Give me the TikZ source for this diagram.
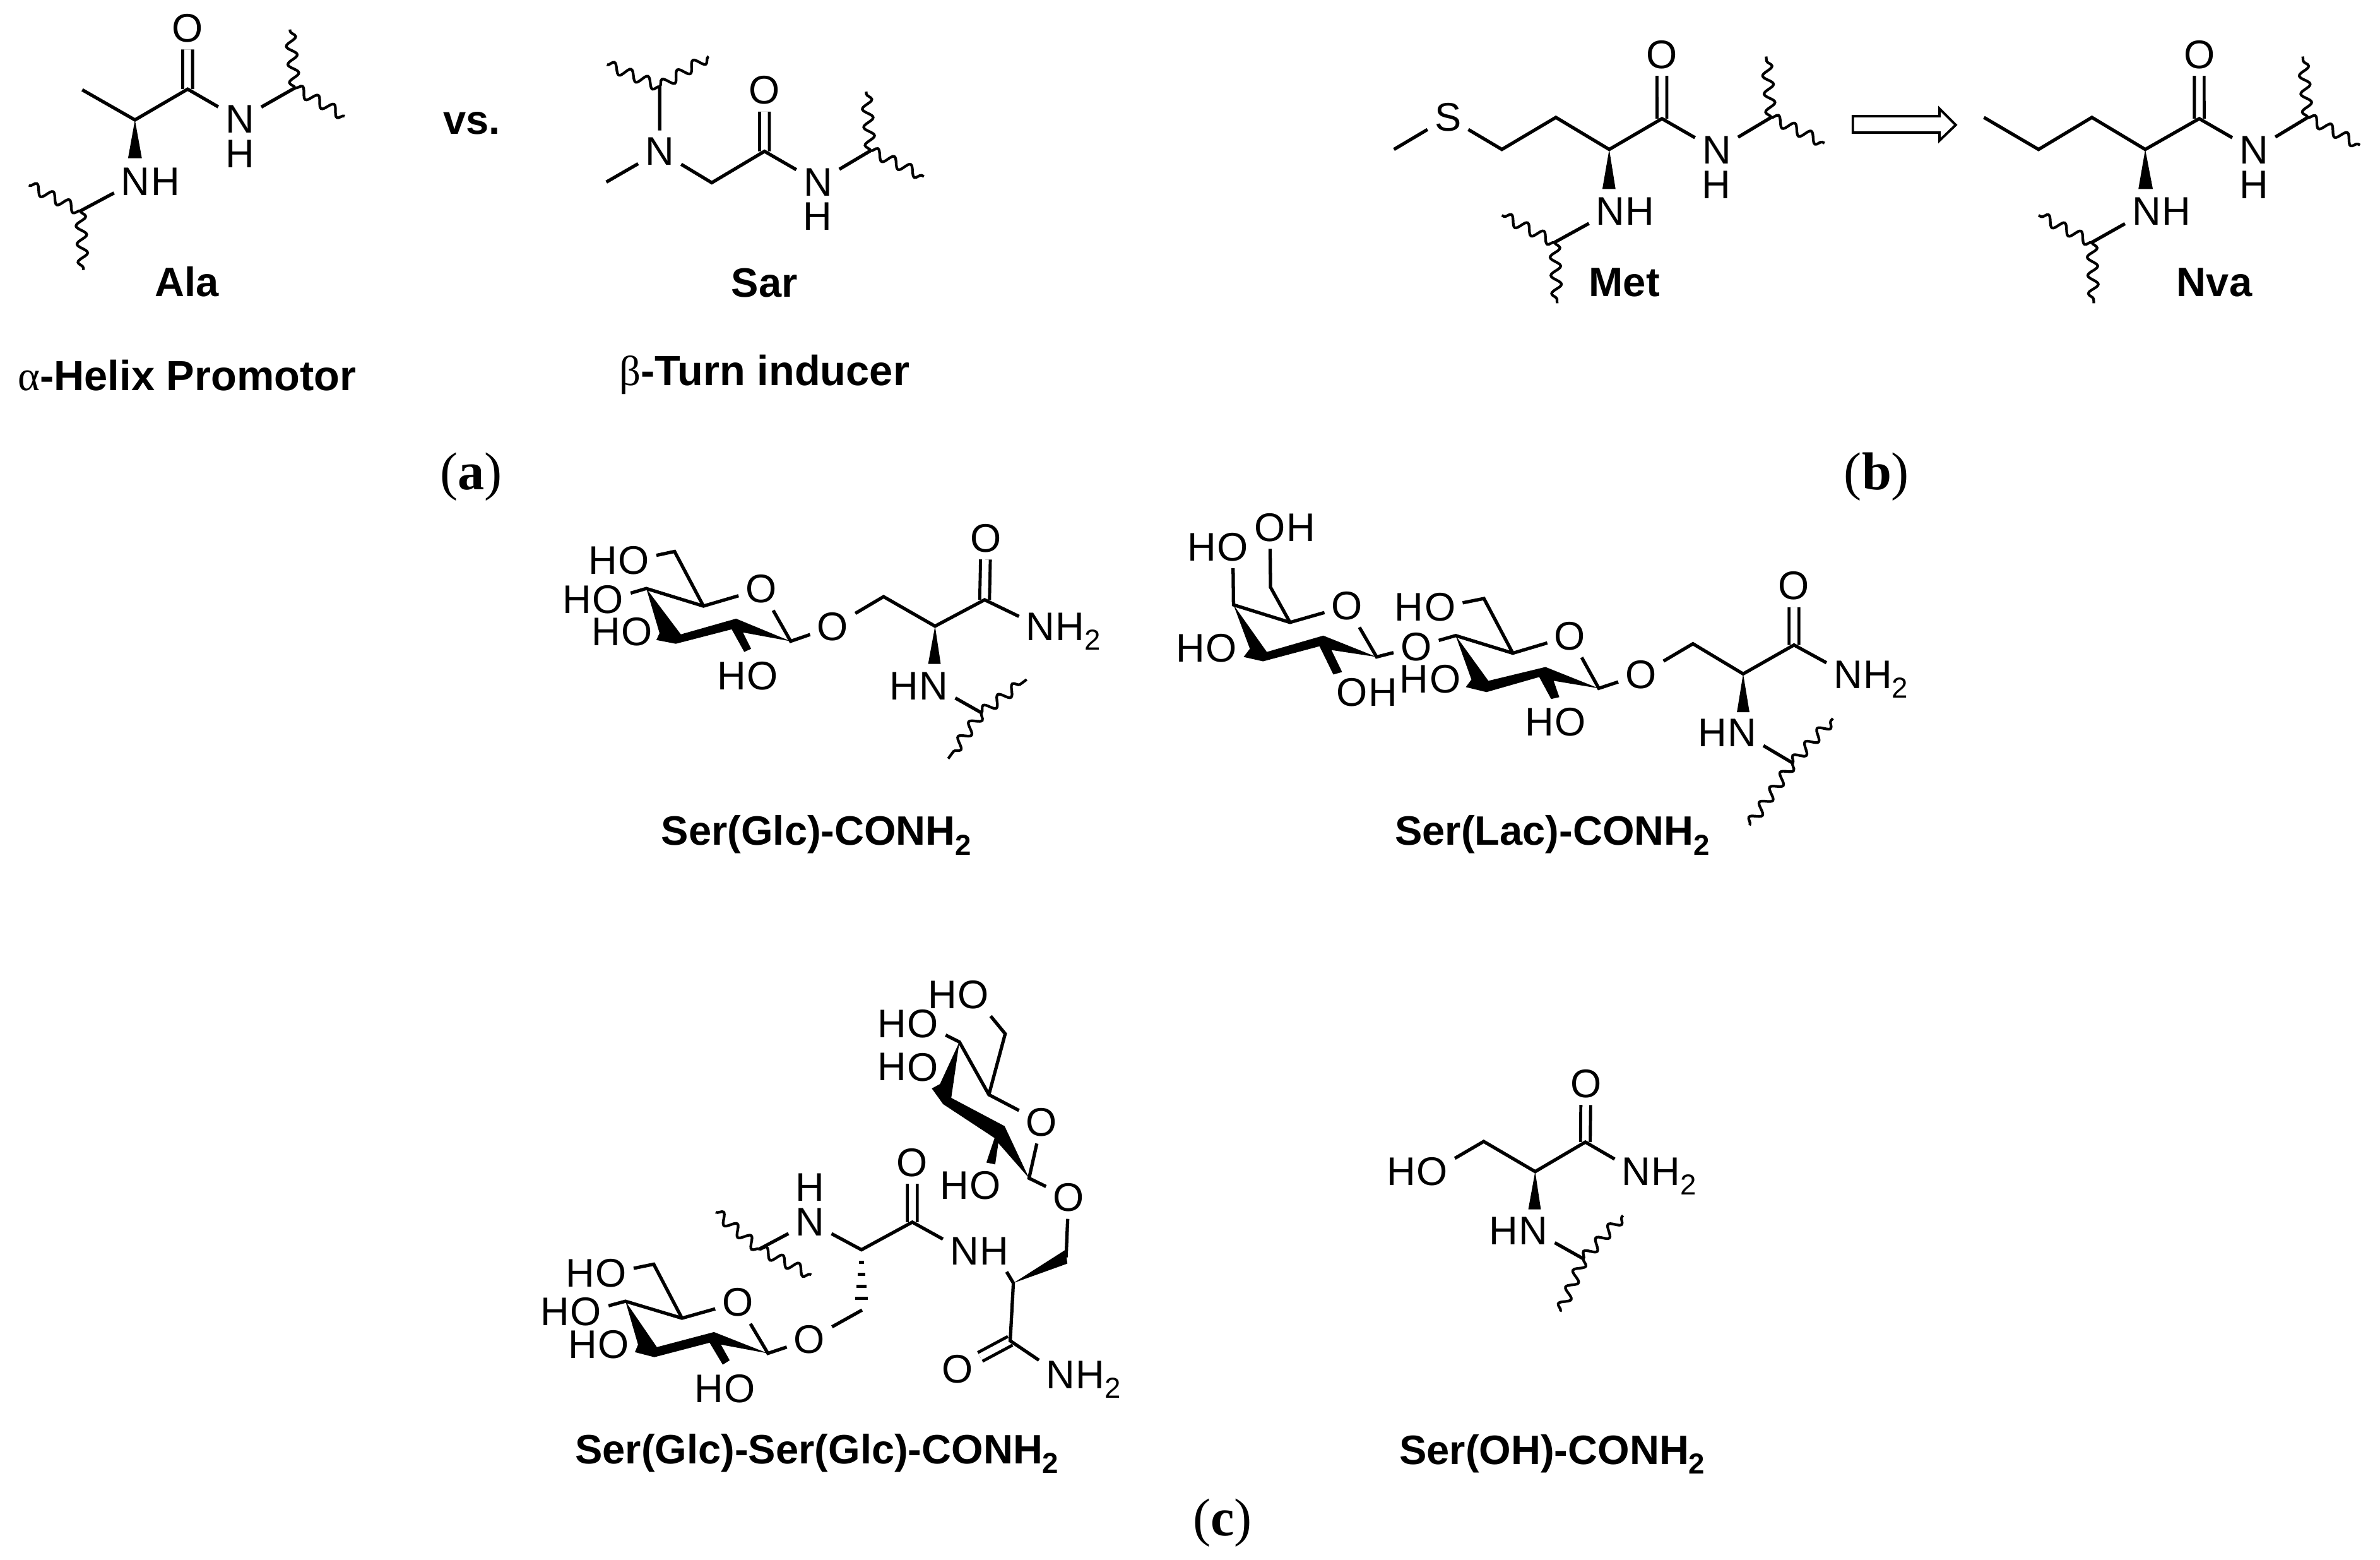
\documentclass[tikz,border=0pt]{standalone}
\usepackage{fontspec}
\setmainfont{Liberation Sans}
\newfontfamily\greekfont{Liberation Serif}
\usetikzlibrary{positioning, decorations.pathmorphing}
\newcommand{\subtwo}{\smash{\raisebox{-4.3pt}{\fontsize{13}{13}\selectfont 2}}}
\tikzset{
  atom/.style={inner sep=3pt, font=\fontsize{18}{18}\selectfont},
  molname/.style={inner sep=0pt, anchor=base, font=\fontsize{18.5}{18.5}\selectfont\bfseries},
  rolename/.style={molname, font=\fontsize{19}{19}\selectfont\bfseries},
  panel/.style={inner sep=0pt, anchor=base, font=\fontsize{24}{24}\selectfont\greekfont},
  bond/.style={line width=1.5pt},
  dblbond/.style={line width=1.4pt, double, double distance=3pt},
  wavy/.style={line width=1.2pt, decorate, decoration={snake, amplitude=2.3pt, segment length=8.2pt}}
}

\begin{document}
\begin{tikzpicture}[y=-1cm]
  \useasboundingbox (0,0) rectangle (37.71,24.70);
  \fill[white] (0,0) rectangle (37.71,24.70);

  \begin{scope}[scale=.9945]
  % Ala
  \coordinate (alaMe) at (1.31,1.43);
  \coordinate (alaCa) at (2.15,1.91);
  \coordinate (alaC) at (2.99,1.42);
  \coordinate (alaRa) at (4.70,1.40);
  \coordinate (alaRb) at (1.28,3.36);
  \coordinate (alaWa) at (4.62,0.47);
  \coordinate (alaWb) at (5.49,1.85);
  \coordinate (alaWc) at (0.46,2.95);
  \coordinate (alaWd) at (1.33,4.30);
  \node[atom] (alaO) at (2.99,0.45) {O};
  \node[atom] (alaNa) at (3.82,1.90) {N};
  \node[atom, below=-3.2pt of alaNa] (alaHa) {H};
  \node[atom] (alaNb) at (2.16,2.89) {N};
  \node[atom, right=-6pt of alaNb] (alaHb) {H};
  \draw[dblbond] (alaO) -- (alaC);
  \draw[bond] (alaMe) -- (alaCa) -- (alaC) -- (alaNa) -- (alaRa);
  \draw[bond] (alaNb) -- (alaRb);
  \draw[wavy] (alaRa) -- (alaWa);
  \draw[wavy] (alaRa) -- (alaWb);
  \draw[wavy] (alaRb) -- (alaWc);
  \draw[wavy] (alaRb) -- (alaWd);
  \fill (alaCa) -- (2.04,2.52) -- (2.26,2.52) -- cycle;
  \node[molname] (alaName) at (2.98,4.72) {Ala};
  \node[rolename] (alaRole) at (2.98,6.22) {{\greekfont\mdseries α}-Helix Promotor};
  \node[molname] (vsText) at (7.52,2.14) {vs.};

  % Sar
  \coordinate (sarC) at (12.18,2.41);
  \coordinate (sarCH) at (11.34,2.91);
  \coordinate (sarMe) at (9.66,2.90);
  \coordinate (sarRa) at (10.51,1.38);
  \coordinate (sarRb) at (13.87,2.40);
  \coordinate (sarWa) at (9.67,1.03);
  \coordinate (sarWb) at (11.29,0.90);
  \coordinate (sarWc) at (13.80,1.46);
  \coordinate (sarWd) at (14.72,2.81);
  \node[atom] (sarO) at (12.18,1.44) {O};
  \node[atom] (sarNa) at (10.51,2.41) {N};
  \node[atom] (sarNb) at (13.03,2.90) {N};
  \node[atom, below=-3.2pt of sarNb] (sarH) {H};
  \draw[dblbond] (sarO) -- (sarC);
  \draw[bond] (sarRa) -- (sarNa) -- (sarCH) -- (sarC) -- (sarNb) -- (sarRb);
  \draw[bond] (sarNa) -- (sarMe);
  \draw[wavy] (sarRa) -- (sarWa);
  \draw[wavy] (sarRa) -- (sarWb);
  \draw[wavy] (sarRb) -- (sarWc);
  \draw[wavy] (sarRb) -- (sarWd);
  \node[molname] (sarName) at (12.18,4.73) {Sar};
  \node[rolename] (sarRole) at (12.18,6.14) {{\greekfont\mdseries β}-Turn inducer};

  \node[panel] (panelA) at (7.51,7.80) {(\textbf{a})};
  \end{scope}

  \begin{scope}[shift={(0.118,0)}, scale=.9945]
  % Met
  \coordinate (metMe) at (22.09,2.38);
  \coordinate (metCg) at (23.81,2.38);
  \coordinate (metCb) at (24.67,1.87);
  \coordinate (metCa) at (25.52,2.38);
  \coordinate (metC) at (26.36,1.89);
  \coordinate (metRa) at (28.10,1.87);
  \coordinate (metRb) at (24.65,3.86);
  \coordinate (metWa) at (28.02,0.90);
  \coordinate (metWb) at (28.95,2.28);
  \coordinate (metWc) at (23.81,3.43);
  \coordinate (metWd) at (24.69,4.83);
  \node[atom] (metS) at (22.95,1.87) {S};
  \node[atom] (metO) at (26.36,0.87) {O};
  \node[atom] (metNa) at (27.23,2.39) {N};
  \node[atom, below=-3.2pt of metNa] (metHa) {H};
  \node[atom] (metNb) at (25.54,3.37) {N};
  \node[atom, right=-6pt of metNb] (metHb) {H};
  \draw[dblbond] (metO) -- (metC);
  \draw[bond] (metMe) -- (metS) -- (metCg) -- (metCb) -- (metCa) -- (metC) -- (metNa) -- (metRa);
  \draw[bond] (metNb) -- (metRb);
  \draw[wavy] (metRa) -- (metWa);
  \draw[wavy] (metRa) -- (metWb);
  \draw[wavy] (metRb) -- (metWc);
  \draw[wavy] (metRb) -- (metWd);
  \fill (metCa) -- (25.41,3.01) -- (25.62,3.01) -- cycle;
  \node[molname] (metName) at (25.76,4.72) {Met};

  % Hollow arrow
  \draw[line width=1.1pt, fill=white] (29.40,1.85) -- (30.78,1.85) -- (30.78,1.73) -- (31.04,1.99) -- (30.78,2.24) -- (30.78,2.11) -- (29.40,2.11) -- cycle;

  % Nva
  \coordinate (nvaMe) at (31.49,1.87);
  \coordinate (nvaCg) at (32.36,2.38);
  \coordinate (nvaCb) at (33.21,1.87);
  \coordinate (nvaCa) at (34.06,2.38);
  \coordinate (nvaC) at (34.92,1.89);
  \coordinate (nvaRa) at (36.65,1.87);
  \coordinate (nvaRb) at (33.21,3.86);
  \coordinate (nvaWa) at (36.57,0.90);
  \coordinate (nvaWb) at (37.48,2.31);
  \coordinate (nvaWc) at (32.36,3.43);
  \coordinate (nvaWd) at (33.24,4.83);
  \node[atom] (nvaO) at (34.92,0.87) {O};
  \node[atom] (nvaNa) at (35.79,2.39) {N};
  \node[atom, below=-3.2pt of nvaNa] (nvaHa) {H};
  \node[atom] (nvaNb) at (34.08,3.37) {N};
  \node[atom, right=-6pt of nvaNb] (nvaHb) {H};
  \draw[dblbond] (nvaO) -- (nvaC);
  \draw[bond] (nvaMe) -- (nvaCg) -- (nvaCb) -- (nvaCa) -- (nvaC) -- (nvaNa) -- (nvaRa);
  \draw[bond] (nvaNb) -- (nvaRb);
  \draw[wavy] (nvaRa) -- (nvaWa);
  \draw[wavy] (nvaRa) -- (nvaWb);
  \draw[wavy] (nvaRb) -- (nvaWc);
  \draw[wavy] (nvaRb) -- (nvaWd);
  \fill (nvaCa) -- (33.95,3.01) -- (34.18,3.01) -- cycle;
  \node[molname] (nvaName) at (35.16,4.72) {Nva};

  \node[panel] (panelB) at (29.78,7.80) {(\textbf{b})};
  \end{scope}

  \begin{scope}[shift={(0.047,0.043)}, scale=.9945]
  % Ser(Glc)-CONH2
  \coordinate (glcC) at (15.64,9.51);
  \coordinate (glcCa) at (14.85,9.93);
  \coordinate (glcCb) at (14.03,9.46);
  \coordinate (glcCi) at (12.55,10.17);
  \coordinate (glcCv) at (11.16,9.61);
  \coordinate (glcCiv) at (10.25,9.33);
  \coordinate (glcCvi) at (10.70,8.74);
  \coordinate (glcR) at (15.59,11.31);
  \coordinate (glcWa) at (16.31,10.78);
  \coordinate (glcWb) at (15.06,12.04);
  \node[atom] (glcO) at (15.66,8.53) {O};
  \node[atom] (glcNa) at (16.53,9.94) {N};
  \node[atom, right=-6pt of glcNa] (glcHa) {H\subtwo};
  \node[atom] (glcOe) at (13.22,9.94) {O};
  \node[atom] (glcOr) at (12.08,9.34) {O};
  \node[atom] (glcOvi) at (10.05,8.88) {O};
  \node[atom, left=-6pt of glcOvi] (glcHvi) {H};
  \node[atom] (glcOiv) at (9.64,9.51) {O};
  \node[atom, left=-6pt of glcOiv] (glcHiv) {H};
  \node[atom] (glcOiii) at (10.10,10.02) {O};
  \node[atom, left=-6pt of glcOiii] (glcHiii) {H};
  \node[atom] (glcOii) at (12.10,10.72) {O};
  \node[atom, left=-6pt of glcOii] (glcHii) {H};
  \node[atom] (glcNb) at (14.83,10.88) {N};
  \node[atom, left=-6pt of glcNb] (glcHb) {H};
  \draw[dblbond] (glcO) -- (glcC);
  \draw[bond] (glcNa) -- (glcC) -- (glcCa) -- (glcCb) -- (glcOe) -- (glcCi) -- (glcOr) -- (glcCv) -- (glcCiv) -- (glcOiv);
  \draw[bond] (glcCv) -- (glcCvi) -- (glcOvi);
  \draw[bond] (glcNb) -- (glcR);
  \draw[wavy] (glcR) -- (glcWa);
  \draw[wavy] (glcR) -- (glcWb);
  \fill (glcCiv) -- (10.80,10.06) -- (11.68,9.81) -- (glcCi) -- (11.79,10.03) -- (11.92,10.29) -- (11.81,10.34) -- (11.61,9.98) -- (10.72,10.21) -- (10.41,10.15) -- (10.46,10.04) -- cycle;
  \fill (glcCa) -- (14.74,10.53) -- (14.94,10.53) -- cycle;
  \node[molname] (glcName) at (12.96,13.42) {Ser(Glc)-CONH\subtwo};
  \end{scope}

  \begin{scope}[shift={(0.102,0.043)}, scale=.9945]
  % Ser(Lac)-CONH2
  \coordinate (lacC) at (28.48,10.23);
  \coordinate (lacCa) at (27.67,10.69);
  \coordinate (lacCb) at (26.87,10.21);
  \coordinate (lacCi) at (25.37,10.92);
  \coordinate (lacCv) at (24.00,10.36);
  \coordinate (lacCiv) at (23.09,10.08);
  \coordinate (lacCvi) at (23.54,9.49);
  \coordinate (galCi) at (21.83,10.42);
  \coordinate (galCv) at (20.45,9.87);
  \coordinate (galCiv) at (19.55,9.59);
  \coordinate (galCvi) at (20.14,9.31);
  \coordinate (lacR) at (28.46,12.11);
  \coordinate (lacWa) at (29.10,11.40);
  \coordinate (lacWb) at (27.77,13.10);
  \node[atom] (lacO) at (28.48,9.29) {O};
  \node[atom] (lacNa) at (29.34,10.70) {N};
  \node[atom, right=-6pt of lacNa] (lacHa) {H\subtwo};
  \node[atom] (lacOe) at (26.04,10.70) {O};
  \node[atom] (lacOr) at (24.91,10.09) {O};
  \node[atom] (lacOvi) at (22.84,9.63) {O};
  \node[atom, left=-6pt of lacOvi] (lacHvi) {H};
  \node[atom] (lacOg) at (22.46,10.26) {O};
  \node[atom] (lacOiii) at (22.92,10.77) {O};
  \node[atom, left=-6pt of lacOiii] (lacHiii) {H};
  \node[atom] (lacOii) at (24.92,11.46) {O};
  \node[atom, left=-6pt of lacOii] (lacHii) {H};
  \node[atom] (lacNb) at (27.65,11.63) {N};
  \node[atom, left=-6pt of lacNb] (lacHb) {H};
  \node[atom] (galOr) at (21.36,9.61) {O};
  \node[atom] (galOvi) at (20.13,8.36) {O};
  \node[atom, right=-6pt of galOvi] (galHvi) {H};
  \node[atom] (galOiv) at (19.54,8.67) {O};
  \node[atom, left=-6pt of galOiv] (galHiv) {H};
  \node[atom] (galOiii) at (19.36,10.28) {O};
  \node[atom, left=-6pt of galOiii] (galHiii) {H};
  \node[atom] (galOii) at (21.44,10.98) {O};
  \node[atom, right=-6pt of galOii] (galHii) {H};
  \draw[dblbond] (lacO) -- (lacC);
  \draw[bond] (lacNa) -- (lacC) -- (lacCa) -- (lacCb) -- (lacOe) -- (lacCi) -- (lacOr) -- (lacCv) -- (lacCiv) -- (lacOg) -- (galCi) -- (galOr) -- (galCv) -- (galCiv) -- (galOiv);
  \draw[bond] (lacCv) -- (lacCvi) -- (lacOvi);
  \draw[bond] (galCv) -- (galCvi) -- (galOvi);
  \draw[bond] (lacNb) -- (lacR);
  \draw[wavy] (lacR) -- (lacWa);
  \draw[wavy] (lacR) -- (lacWb);
  \fill (lacCiv) -- (23.61,10.80) -- (24.52,10.58) -- (lacCi) -- (24.65,10.80) -- (24.74,11.06) -- (24.61,11.09) -- (24.42,10.74) -- (23.58,10.98) -- (23.25,10.90) -- (23.34,10.78) -- cycle;
  \fill (galCiv) -- (20.08,10.34) -- (20.98,10.08) -- (galCi) -- (21.11,10.31) -- (21.28,10.66) -- (21.14,10.70) -- (20.92,10.25) -- (20.02,10.49) -- (19.71,10.42) -- (19.81,10.29) -- cycle;
  \fill (lacCa) -- (27.57,11.30) -- (27.77,11.30) -- cycle;
  \node[molname] (lacName) at (24.63,13.42) {Ser(Lac)-CONH\subtwo};
  \end{scope}

  \begin{scope}[shift={(0.045,0.085)}, scale=.9945]
  % Ser(Glc)-Ser(Glc)-CONH2, upper sugar
  \coordinate (dgtCi) at (16.35,18.68);
  \coordinate (dgtCv) at (15.71,17.35);
  \coordinate (dgtCiv) at (15.24,16.51);
  \coordinate (dgtCvi) at (15.97,16.38);
  \node[atom] (dgtOr) at (16.55,17.79) {O};
  \node[atom] (dgtOvi) at (15.46,15.76) {O};
  \node[atom, left=-6pt of dgtOvi] (dgtHvi) {H};
  \node[atom] (dgtOiv) at (14.66,16.22) {O};
  \node[atom, left=-6pt of dgtOiv] (dgtHiv) {H};
  \node[atom] (dgtOiii) at (14.66,16.91) {O};
  \node[atom, left=-6pt of dgtOiii] (dgtHiii) {H};
  \node[atom] (dgtOii) at (15.65,18.80) {O};
  \node[atom, left=-6pt of dgtOii] (dgtHii) {H};
  \node[atom] (dgtOe) at (16.98,18.99) {O};
  \draw[bond] (dgtOe) -- (dgtCi) -- (dgtOr) -- (dgtCv) -- (dgtCiv) -- (dgtOiv);
  \draw[bond] (dgtCv) -- (dgtCvi) -- (dgtOvi);
  \fill (dgtCiv) -- (15.11,17.40) -- (15.96,17.85) -- (dgtCi) -- (15.86,18.12) -- (15.81,18.46) -- (15.67,18.43) -- (15.80,18.04) -- (14.98,17.50) -- (14.80,17.25) -- (14.93,17.18) -- cycle;

  % peptide part
  \coordinate (dpC) at (14.49,19.38);
  \coordinate (dpCa) at (13.68,19.82);
  \coordinate (dpCb) at (13.69,20.78);
  \coordinate (dpCc) at (16.10,20.35);
  \coordinate (dpCd) at (16.94,19.94);
  \coordinate (dpCe) at (16.05,21.27);
  \coordinate (dpR) at (12.05,19.81);
  \coordinate (dpWa) at (11.36,19.22);
  \coordinate (dpWb) at (12.88,20.22);
  \node[atom] (dpO) at (14.49,18.43) {O};
  \node[atom] (dpNa) at (12.86,19.38) {N};
  \node[atom, above=-3.2pt of dpNa] (dpHa) {H};
  \node[atom] (dpNb) at (15.32,19.84) {N};
  \node[atom, right=-6pt of dpNb] (dpHb) {H};
  \node[atom] (dpOd) at (15.21,21.72) {O};
  \node[atom] (dpNc) at (16.85,21.81) {N};
  \node[atom, right=-6pt of dpNc] (dpHc) {H\subtwo};
  \draw[dblbond] (dpO) -- (dpC);
  \draw[dblbond] (dpOd) -- (dpCe);
  \draw[bond] (dpR) -- (dpNa) -- (dpCa) -- (dpC) -- (dpNb);
  \draw[bond] (dpHb) -- (dpCc) -- (dpCe) -- (dpNc);
  \draw[bond] (dgtOe) -- (dpCd);
  \draw[wavy] (dpR) -- (dpWa);
  \draw[wavy] (dpR) -- (dpWb);
  \fill (dpCc) -- (16.93,19.82) -- (16.96,20.04) -- cycle;
  % hashed bond
  \foreach \hy/\hw in {20.02/.04, 20.21/.06, 20.40/.08, 20.59/.10}
    \draw[bond] (13.68-\hw,\hy) -- (13.68+\hw,\hy);

  % lower sugar
  \coordinate (dgbCi) at (12.19,21.47);
  \coordinate (dgbCv) at (10.82,20.91);
  \coordinate (dgbCiv) at (9.92,20.64);
  \coordinate (dgbCvi) at (10.37,20.05);
  \node[atom] (dgbOe) at (12.85,21.25) {O};
  \node[atom] (dgbOr) at (11.71,20.66) {O};
  \node[atom] (dgbOvi) at (9.69,20.19) {O};
  \node[atom, left=-6pt of dgbOvi] (dgbHvi) {H};
  \node[atom] (dgbOiv) at (9.29,20.81) {O};
  \node[atom, left=-6pt of dgbOiv] (dgbHiv) {H};
  \node[atom] (dgbOiii) at (9.73,21.33) {O};
  \node[atom, left=-6pt of dgbOiii] (dgbHiii) {H};
  \node[atom] (dgbOii) at (11.74,22.03) {O};
  \node[atom, left=-6pt of dgbOii] (dgbHii) {H};
  \draw[bond] (dpCb) -- (dgbOe) -- (dgbCi) -- (dgbOr) -- (dgbCv) -- (dgbCiv) -- (dgbOiv);
  \draw[bond] (dgbCv) -- (dgbCvi) -- (dgbOvi);
  \fill (dgbCiv) -- (10.42,21.37) -- (11.33,21.13) -- (dgbCi) -- (11.44,21.33) -- (11.58,21.58) -- (11.47,21.65) -- (11.26,21.30) -- (10.38,21.53) -- (10.07,21.45) -- (10.12,21.33) -- cycle;
  \node[molname] (dgName) at (12.97,23.23) {Ser(Glc)-Ser(Glc)-CONH\subtwo};
  \end{scope}

  \begin{scope}[shift={(0.118,0.09)}, scale=.9945]
  % Ser(OH)-CONH2
  \coordinate (ohsC) at (25.14,18.10);
  \coordinate (ohsCa) at (24.34,18.57);
  \coordinate (ohsCb) at (23.52,18.09);
  \coordinate (ohsR) at (25.11,19.96);
  \coordinate (ohsWa) at (25.74,19.27);
  \coordinate (ohsWb) at (24.74,20.80);
  \node[atom] (ohsO) at (25.15,17.17) {O};
  \node[atom] (ohsNa) at (25.95,18.57) {N};
  \node[atom, right=-6pt of ohsNa] (ohsHa) {H\subtwo};
  \node[atom] (ohsOh) at (22.70,18.57) {O};
  \node[atom, left=-6pt of ohsOh] (ohsHo) {H};
  \node[atom] (ohsNb) at (24.31,19.51) {N};
  \node[atom, left=-6pt of ohsNb] (ohsHb) {H};
  \draw[dblbond] (ohsO) -- (ohsC);
  \draw[bond] (ohsNa) -- (ohsC) -- (ohsCa) -- (ohsCb) -- (ohsOh);
  \draw[bond] (ohsNb) -- (ohsR);
  \draw[wavy] (ohsR) -- (ohsWa);
  \draw[wavy] (ohsR) -- (ohsWb);
  \fill (ohsCa) -- (24.23,19.17) -- (24.43,19.17) -- cycle;
  \node[molname] (ohsName) at (24.61,23.23) {Ser(OH)-CONH\subtwo};
  \end{scope}

  \node[panel] (panelC) at (19.37,24.32) {(\textbf{c})};
\end{tikzpicture}
\end{document}
